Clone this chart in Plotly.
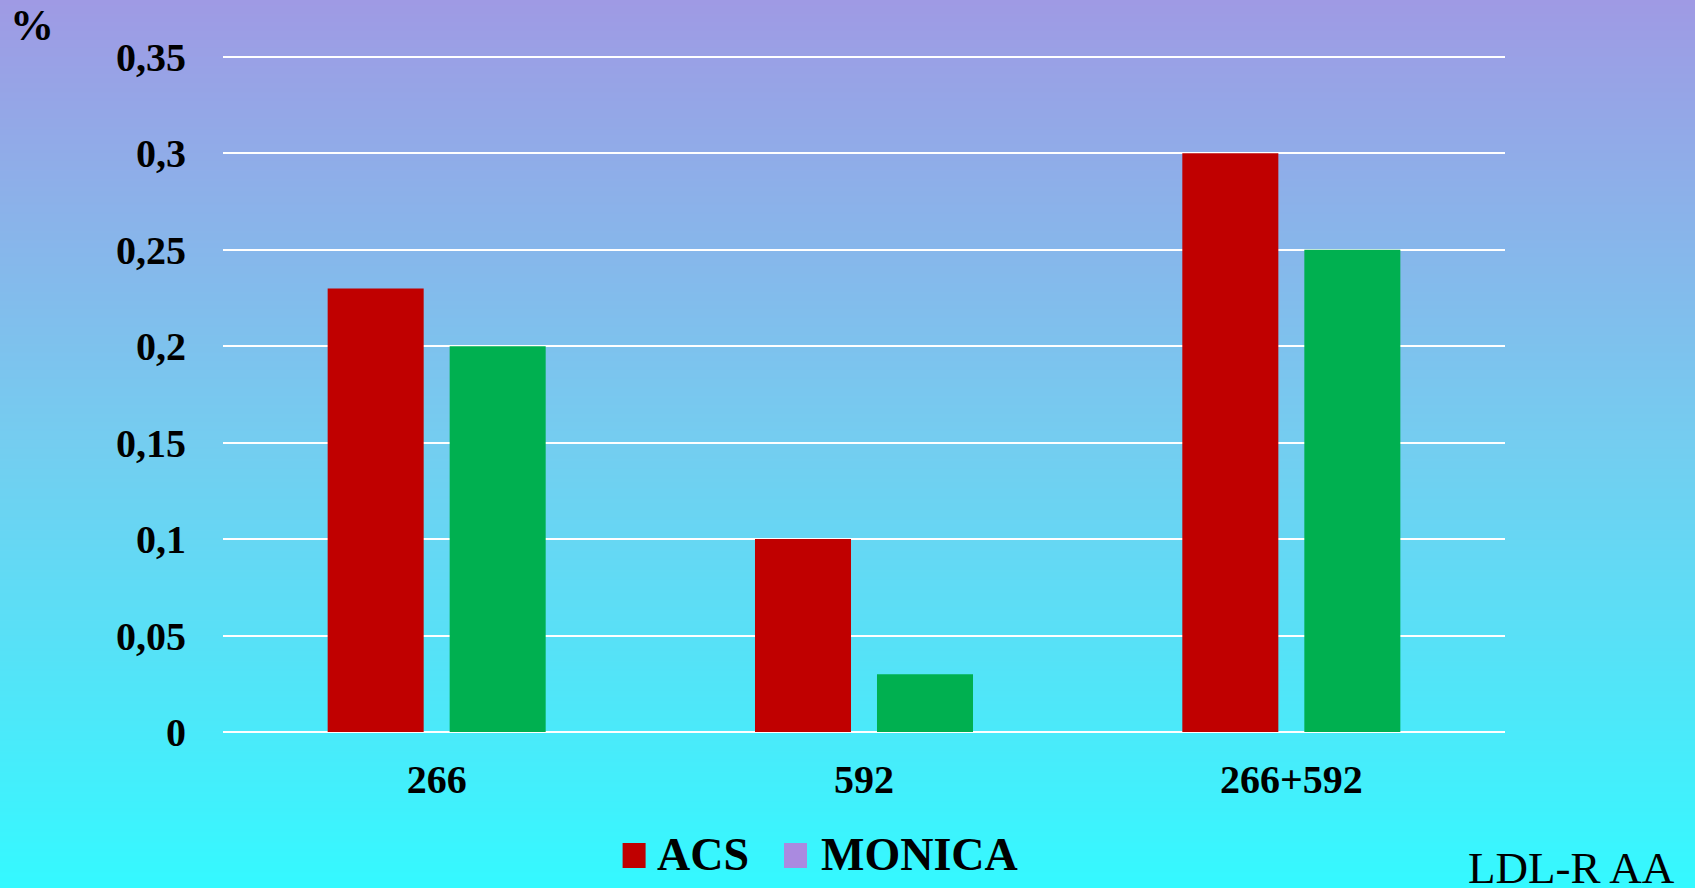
import base64
import struct
import zlib

import plotly.graph_objects as go

# ---- data ----
categories = ["266", "592", "266+592"]
series_names = ["ACS", "MONICA"]
acs_values = [0.23, 0.10, 0.30]
monica_values = [0.20, 0.03, 0.25]
bar_colors = ["#c00000", "#00b050"]
legend_colors = ["#c00000", "#aa8ae0"]
y_tickvals = [0, 0.05, 0.1, 0.15, 0.2, 0.25, 0.3, 0.35]
y_ticktext = ["0", "0,05", "0,1", "0,15", "0,2", "0,25", "0,3", "0,35"]
unit_label = "%"
corner_label = "LDL-R AA"

# ---- geometry ----
W, H = 1695, 888
ML, MR, MT, MB = 223, 190, 55, 156
PW, PH = W - ML - MR, H - MT - MB
Y_MAX = 0.351


def px_x(px):
    return (px - ML) / PW


def px_y(py):
    return (H - MB - py) / PH


# ---- vertical gradient background as an embedded PNG ----
stops = [(0.0, (159, 154, 228)), (0.5, (116, 205, 240)), (1.0, (52, 249, 255))]


def color_at(t):
    for (t0, c0), (t1, c1) in zip(stops[:-1], stops[1:]):
        if t0 <= t <= t1:
            f = (t - t0) / (t1 - t0)
            return tuple(int(round(a + (b - a) * f)) for a, b in zip(c0, c1))
    return stops[-1][1]


def make_png(rows):
    raw = b"".join(b"\x00" + bytes(c) for c in rows)

    def chunk(tag, data):
        return (struct.pack(">I", len(data)) + tag + data
                + struct.pack(">I", zlib.crc32(tag + data) & 0xFFFFFFFF))

    ihdr = struct.pack(">IIBBBBB", 1, len(rows), 8, 2, 0, 0, 0)
    return (b"\x89PNG\r\n\x1a\n" + chunk(b"IHDR", ihdr)
            + chunk(b"IDAT", zlib.compress(raw)) + chunk(b"IEND", b""))


rows = [color_at(i / (H - 1)) for i in range(H)]
bg_uri = "data:image/png;base64," + base64.b64encode(make_png(rows)).decode()

FONT = "Liberation Serif"

fig = go.Figure()
for name, vals, col in zip(series_names, [acs_values, monica_values], bar_colors):
    fig.add_trace(go.Bar(x=categories, y=vals, name=name, marker_color=col,
                         marker_line_width=0, showlegend=False))

fig.update_layout(
    width=W, height=H,
    margin=dict(l=ML, r=MR, t=MT, b=MB, pad=0),
    paper_bgcolor="#36f8ff",
    plot_bgcolor="rgba(0,0,0,0)",
    barmode="group", bargap=0.429, bargroupgap=0.213,
    font=dict(family=FONT, color="#000000"),
    images=[dict(source=bg_uri, xref="paper", yref="paper",
                 x=px_x(0), y=px_y(0), sizex=W / PW, sizey=H / PH,
                 sizing="stretch", xanchor="left", yanchor="top",
                 layer="below")],
)

fig.update_xaxes(showgrid=False, showline=False, zeroline=False, ticks="",
                 tickfont=dict(family=FONT, size=40, color="#000000", weight="bold"),
                 ticklabelstandoff=20)
fig.update_yaxes(range=[0, Y_MAX], tickvals=y_tickvals, ticktext=y_ticktext,
                 showgrid=True, gridcolor="#ffffff", gridwidth=2,
                 zeroline=True, zerolinecolor="#ffffff", zerolinewidth=2,
                 showline=False, ticks="",
                 tickfont=dict(family=FONT, size=40, color="#000000", weight="bold"),
                 ticklabelstandoff=36)

# unit label
fig.add_annotation(text=unit_label, xref="paper", yref="paper",
                   x=px_x(32), y=px_y(26), xanchor="center", yanchor="middle",
                   showarrow=False,
                   font=dict(family=FONT, size=44, color="#000000", weight="bold"))

# corner label
fig.add_annotation(text=corner_label, xref="paper", yref="paper",
                   x=px_x(1677), y=px_y(868), xanchor="right", yanchor="middle",
                   showarrow=False,
                   font=dict(family=FONT, size=45, color="#000000"))

# manual legend (square swatches + bold labels)
swatch_x = [622.6, 784.0]
text_x = [655.0, 819.0]
sw = 23
cy = 855.5
for name, col, sx, tx in zip(series_names, legend_colors, swatch_x, text_x):
    fig.add_shape(type="rect", xref="paper", yref="paper",
                  x0=px_x(sx), x1=px_x(sx + sw),
                  y0=px_y(cy - sw / 2 - 1), y1=px_y(cy + sw / 2 + 1),
                  fillcolor=col, line_width=0)
    fig.add_annotation(text=name, xref="paper", yref="paper",
                       x=px_x(tx), y=px_y(cy - 1), xanchor="left", yanchor="middle",
                       showarrow=False,
                       font=dict(family=FONT, size=46, color="#000000", weight="bold"))

fig.write_html("out.html")
